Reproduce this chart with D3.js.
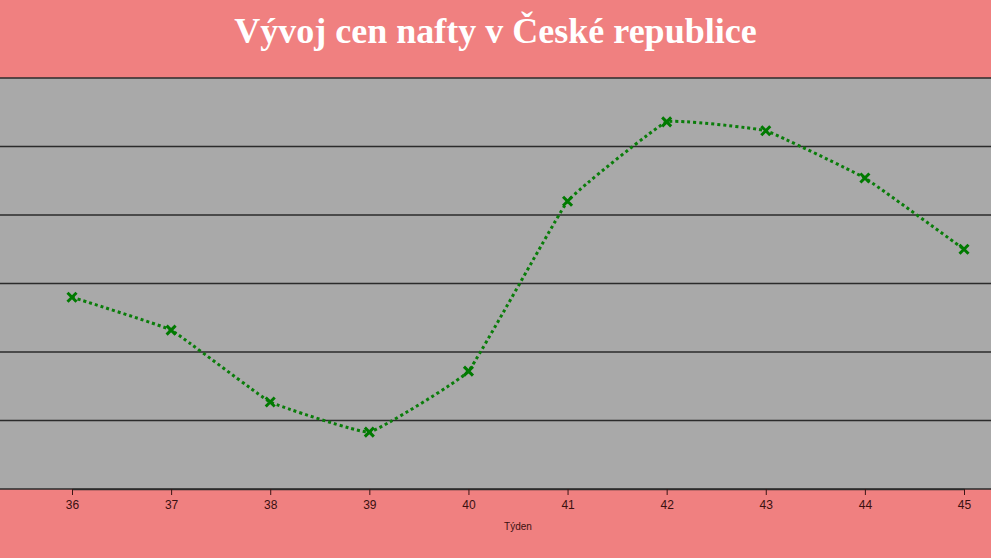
<!DOCTYPE html>
<html>
<head>
<meta charset="utf-8">
<script src="https://cdn.jsdelivr.net/npm/d3@7"></script>
<style>
  html, body { margin: 0; padding: 0; background: #F08080; overflow: hidden; }
</style>
</head>
<body>
<div id="chart"></div>
<script>
// data
const weeks = [36, 37, 38, 39, 40, 41, 42, 43, 44, 45];
const prices = [46.80, 46.32, 45.27, 44.83, 45.72, 48.20, 49.36, 49.23, 48.54, 47.50];
const gridValues = [44, 45, 46, 47, 48, 49, 50];
const titleText = "Vývoj cen nafty v České republice";
const xLabel = "Týden";

const width = 991, height = 558;
const margin = {top: 78, right: 0, bottom: 69, left: 0};

const svg = d3.select("#chart")
  .append("svg")
  .attr("width", width)
  .attr("height", height);

svg.append("rect")
  .attr("width", width)
  .attr("height", height)
  .attr("fill", "#F08080");

let xScale = d3.scalePoint()
  .domain(weeks)
  .range([72, 964]);

let yScale = d3.scaleLinear()
  .domain([44, 50])
  .range([height - margin.bottom, margin.top]);

// plot background
svg.append("rect")
  .attr("x", margin.left)
  .attr("y", margin.top)
  .attr("width", width - margin.left - margin.right)
  .attr("height", height - margin.top - margin.bottom)
  .attr("fill", "#A9A9A9");

// gridlines
svg.append("g")
  .selectAll("line")
  .data(gridValues)
  .enter()
  .append("line")
  .attr("x1", 0)
  .attr("x2", width)
  .attr("y1", d => yScale(d))
  .attr("y2", d => yScale(d))
  .attr("stroke", "#2b2b2b")
  .attr("stroke-width", 1.5);

// x axis
const xAxis = svg.append("g")
  .attr("transform", `translate(0,${height - margin.bottom})`)
  .call(d3.axisBottom(xScale).tickSize(6).tickSizeOuter(0));
xAxis.select(".domain").attr("stroke", "#2b2b2b").attr("stroke-width", 1.5);
xAxis.selectAll(".tick line").attr("stroke", "#3a1515");
xAxis.selectAll(".tick text")
  .attr("fill", "#3a1010")
  .attr("font-family", "Liberation Sans, Arial, sans-serif")
  .attr("font-size", "12px")
  .attr("dy", "0.9em");

svg.append("text")
  .attr("x", (xScale(40) + xScale(41)) / 2)
  .attr("y", 530)
  .attr("text-anchor", "middle")
  .attr("fill", "#3a1010")
  .attr("font-family", "Liberation Sans, Arial, sans-serif")
  .attr("font-size", "10px")
  .text(xLabel);

// title
svg.append("text")
  .attr("x", width / 2)
  .attr("y", 43)
  .attr("text-anchor", "middle")
  .attr("fill", "#ffffff")
  .attr("font-family", "Liberation Serif, serif")
  .attr("font-weight", "bold")
  .attr("font-size", "36px")
  .text(titleText);

// line, only slightly smoothed
const line = d3.line()
  .x((d, i) => xScale(weeks[i]))
  .y(d => yScale(d))
  .curve(d3.curveCardinal.tension(0.75));

svg.append("path")
  .datum(prices)
  .attr("d", line)
  .attr("fill", "none")
  .attr("stroke", "#0a7d0a")
  .attr("stroke-width", 3)
  .attr("stroke-dasharray", "3,3");

// markers
const s = 4.5;
const markers = svg.append("g")
  .selectAll("g")
  .data(prices)
  .enter()
  .append("g")
  .attr("transform", (d, i) => `translate(${xScale(weeks[i])},${yScale(d)})`);

markers.append("path")
  .attr("d", `M${-s},${-s}L${s},${s}M${-s},${s}L${s},${-s}`)
  .attr("stroke", "#007a00")
  .attr("stroke-width", 3)
  .attr("fill", "none");
</script>
</body>
</html>
